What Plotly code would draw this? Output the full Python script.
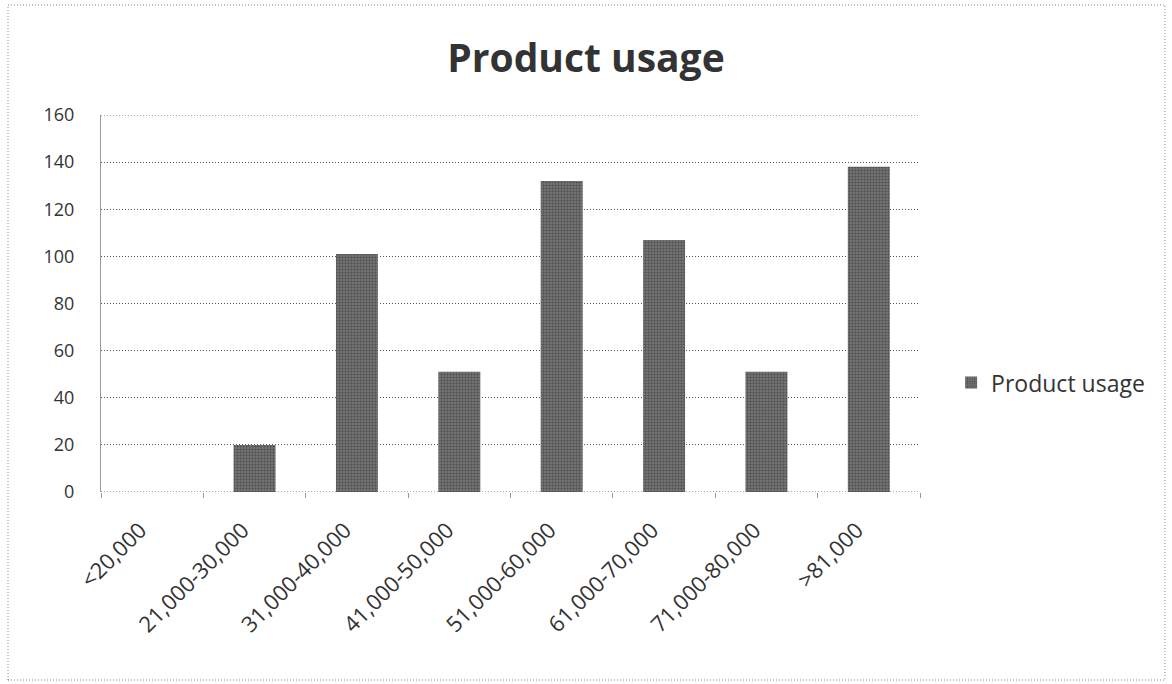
import plotly.graph_objects as go

categories = ["<20,000", "21,000-30,000", "31,000-40,000", "41,000-50,000",
              "51,000-60,000", "61,000-70,000", "71,000-80,000", ">81,000"]
usage = [0, 20, 101, 51, 132, 107, 51, 138]
y_ticks = [0, 20, 40, 60, 80, 100, 120, 140, 160]
series_name = "Product usage"
title_text = "Product usage"

font_family = "'Open Sans', Lato, sans-serif"
grid_dash = "1px,2px"
grid_color = "#555555"

fig = go.Figure()
fig.add_trace(go.Bar(
    x=categories,
    y=usage,
    name=series_name,
    marker=dict(
        color="#5e5e5e",
        line=dict(width=0),
        pattern=dict(shape=".", fgcolor="#2a2a2a", bgcolor="#7c7c7c",
                     size=3, solidity=0.5, fillmode="overlay"),
    ),
))

# plot area spans 819 x 377 px; the frame rectangle is given relative to it
pw, ph = 819, 377

# dotted lines at the bottom and top of the value range (Plotly drops
# grid lines that sit on the plot edges)
edge_lines = [dict(type="line", xref="paper", yref="y", x0=0, x1=1, y0=v, y1=v,
                   layer="below", line=dict(color=grid_color, width=1, dash=grid_dash))
              for v in (y_ticks[0], y_ticks[-1])]

frame = dict(type="rect", xref="paper", yref="paper",
             x0=-93 / pw, x1=1064 / pw, y0=-188 / ph, y1=487 / ph,
             line=dict(color="#888888", width=1, dash=grid_dash))

fig.update_layout(
    width=1172, height=684,
    paper_bgcolor="white", plot_bgcolor="white",
    margin=dict(l=101, r=252, t=115, b=192),
    bargap=0.59,
    showlegend=True,
    title=dict(text=title_text, x=0.5, xanchor="center", y=0.915, yanchor="middle",
               font=dict(family=font_family, size=39, color="#333333", weight="bold")),
    font=dict(family=font_family, size=18, color="#333333"),
    legend=dict(x=1.038, y=0.29, xanchor="left", yanchor="middle",
                font=dict(size=23, color="#333333"), itemwidth=30,
                bgcolor="rgba(0,0,0,0)"),
    xaxis=dict(
        tickangle=-45,
        showgrid=False,
        showline=False,
        ticks="outside", ticklen=5, tickcolor="#999999",
        tickson="boundaries",
        tickfont=dict(size=22, color="#333333"),
        ticklabelstandoff=20,
        ticklabelshift=-12,
    ),
    yaxis=dict(
        range=[0, 160],
        tickvals=y_ticks,
        showgrid=True, gridcolor=grid_color, griddash=grid_dash, gridwidth=1,
        zeroline=False,
        showline=True, linecolor="#9a9a9a", linewidth=1,
        tickfont=dict(size=18, color="#333333"),
        ticklabelstandoff=22,
    ),
    shapes=edge_lines + [frame],
)

fig.write_html("out.html")
